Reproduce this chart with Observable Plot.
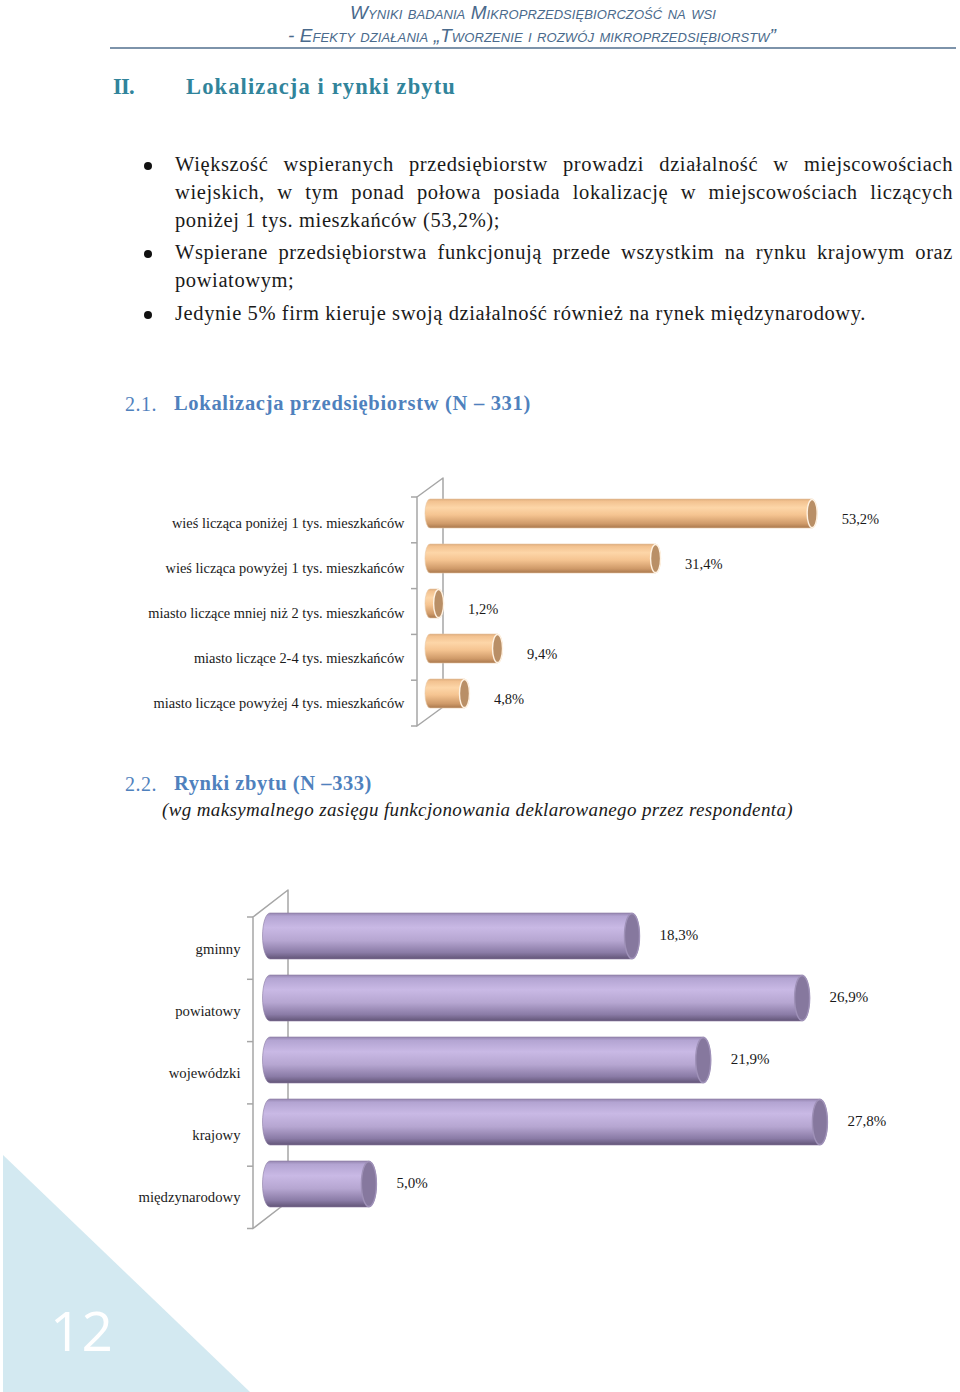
<!DOCTYPE html>
<html><head><meta charset="utf-8">
<script src="https://cdn.jsdelivr.net/npm/d3@7"></script>
<script src="https://cdn.jsdelivr.net/npm/@observablehq/plot@0.6"></script>
<style>
html,body{margin:0;padding:0;background:#fff;}
#page{position:relative;width:960px;height:1392px;overflow:hidden;font-family:"Liberation Serif",serif;color:#1a1a1a;}
.t{position:absolute;white-space:nowrap;}
.bullet{position:absolute;width:8px;height:8px;border-radius:50%;background:#111;}
</style></head><body><div id="page"></div>
<script>
// ---- data ----
const locCategories = ["wieś licząca poniżej 1 tys. mieszkańców", "wieś licząca powyżej 1 tys. mieszkańców", "miasto liczące mniej niż 2 tys. mieszkańców", "miasto liczące 2-4 tys. mieszkańców", "miasto liczące powyżej 4 tys. mieszkańców"];
const locValues = [53.2, 31.4, 1.2, 9.4, 4.8];
const locLabels = ["53,2%", "31,4%", "1,2%", "9,4%", "4,8%"];
const marketCategories = ["gminny", "powiatowy", "wojewódzki", "krajowy", "międzynarodowy"];
const marketValues = [18.3, 26.9, 21.9, 27.8, 5.0];
const marketLabels = ["18,3%", "26,9%", "21,9%", "27,8%", "5,0%"];

const page = document.getElementById("page");
const SERIF = '"Liberation Serif", serif';

function put(txt, o) {
  const el = document.createElement("div");
  el.className = "t";
  el.textContent = txt;
  const lh = o.size * 1.25;
  Object.assign(el.style, {
    left: o.x + "px", top: (o.cy - lh / 2 - o.size * 0.05) + "px",
    fontSize: o.size + "px", lineHeight: lh + "px",
    fontWeight: o.weight || "normal", fontStyle: o.italic ? "italic" : "normal",
    color: o.color || "#1a1a1a", fontFamily: o.family || SERIF,
    fontVariant: o.variant || "normal"
  });
  if (o.ls != null) el.style.letterSpacing = o.ls + "px";
  page.appendChild(el);
  if (o.w) {
    const nat = el.getBoundingClientRect().width;
    const n = [...txt].length;
    el.style.letterSpacing = ((o.w - nat) / n) + "px";
  }
  if (o.jw) {
    el.style.whiteSpace = "normal";
    el.style.width = o.jw + "px";
    el.style.textAlign = "justify";
    el.style.textAlignLast = "justify";
  }
  return el;
}
function measureLS(txt, size, w, extra) {
  const el = put(txt, Object.assign({x: 0, cy: -100, size}, extra || {}));
  const nat = el.getBoundingClientRect().width;
  el.remove();
  return (w - nat) / [...txt].length;
}

// ---- header ----
const HDR = {family: '"Liberation Sans", sans-serif', italic: true, variant: "small-caps", color: "#4a6a8c", size: 19};
put("Wyniki badania Mikroprzedsiębiorczość na wsi", Object.assign({x: 350, cy: 14, w: 366}, HDR));
put("- Efekty działania „Tworzenie i rozwój mikroprzedsiębiorstw”", Object.assign({x: 288, cy: 37, w: 488}, HDR));
const rule = document.createElement("div");
Object.assign(rule.style, {position: "absolute", left: "110px", top: "47px", width: "846px", height: "1.5px", background: "#7d93aa"});
page.appendChild(rule);

// ---- section heading ----
put("II.", {x: 113, cy: 88, size: 22.5, weight: "bold", color: "#31849b", w: 21});
put("Lokalizacja i rynki zbytu", {x: 186, cy: 88, size: 22.5, weight: "bold", color: "#31849b", w: 270});

// ---- bullets ----
const BS = 20.5;
const bodyLS = measureLS("Jedynie 5% firm kieruje swoją działalność również na rynek międzynarodowy.", BS, 691);
const lines = [
  ["Większość wspieranych przedsiębiorstw prowadzi działalność w miejscowościach", 166, true],
  ["wiejskich, w tym ponad połowa posiada lokalizację w miejscowościach liczących", 194, true],
  ["poniżej 1 tys. mieszkańców (53,2%);", 222, false],
  ["Wspierane przedsiębiorstwa funkcjonują przede wszystkim na rynku krajowym oraz", 254, true],
  ["powiatowym;", 282, false],
  ["Jedynie 5% firm kieruje swoją działalność również na rynek międzynarodowy.", 315, false]
];
for (const [t, cy, j] of lines) put(t, {x: 175, cy, size: BS, ls: bodyLS, jw: j ? 778 : null});
for (const cy of [166, 254, 315]) {
  const b = document.createElement("div"); b.className = "bullet";
  b.style.left = "144px"; b.style.top = (cy - 4) + "px"; page.appendChild(b);
}

// ---- subheadings ----
put("2.1.", {x: 125, cy: 405, size: 20, color: "#4f81bd", w: 32});
put("Lokalizacja przedsiębiorstw (N – 331)", {x: 174, cy: 405, size: 20.5, weight: "bold", color: "#4f81bd", w: 357});
put("2.2.", {x: 125, cy: 785, size: 20, color: "#4f81bd", w: 32});
put("Rynki zbytu (N –333)", {x: 174, cy: 785, size: 20.5, weight: "bold", color: "#4f81bd", w: 198});
put("(wg maksymalnego zasięgu funkcjonowania deklarowanego przez respondenta)", {x: 162, cy: 811, size: 19, italic: true, w: 631});

// ---- cylinder bar chart ----
function cylChart(c) {
  const rows = c.cats.map((cat, i) => ({cat, value: c.vals[i], label: c.labels[i]}));
  const n = rows.length;
  const innerH = c.height - c.marginTop - c.marginBottom;
  const step = innerH / n;
  const bw = step * (1 - c.padInner);
  const rx = c.rx, ry = bw / 2;

  const defsMark = () => {
    const g = d3.create("svg:g");
    const grad = g.append("defs").append("linearGradient").attr("id", c.gradId)
      .attr("x1", 0).attr("y1", 0).attr("x2", 0).attr("y2", 1);
    c.stops.forEach(([o, col]) => grad.append("stop").attr("offset", o).attr("stop-color", col));
    return g.node();
  };
  const wallMark = (index, scales, values, dim) => {
    const g = d3.create("svg:g").attr("stroke", "#a6a6a6").attr("stroke-width", 1.5).attr("fill", "none");
    const x0 = scales.x(0);
    const top = dim.marginTop + c.wall.oy, bottom = dim.height - dim.marginBottom + c.wall.oy;
    const xl = x0 + c.wall.lx, xb = x0 + c.wall.bx, dy = c.wall.dy;
    g.append("path").attr("d", `M${xl},${top}L${xb},${top - dy}L${xb},${bottom - dy}L${xl},${bottom}Z`).attr("stroke-linejoin", "round");
    for (let i = 0; i <= n; i++) {
      const y = top + i * (bottom - top) / n;
      g.append("line").attr("x1", xl - 6).attr("x2", xl).attr("y1", y).attr("y2", y);
    }
    return g.node();
  };
  const capMark = (index, scales) => {
    const g = d3.create("svg:g");
    const b = scales.y.bandwidth ? scales.y.bandwidth() : bw;
    g.selectAll("ellipse").data(rows).join("ellipse")
      .attr("cx", d => scales.x(d.value)).attr("cy", d => scales.y(d.cat) + b / 2)
      .attr("rx", rx).attr("ry", b / 2 - 0.5)
      .attr("fill", c.capFill).attr("stroke", c.capStroke).attr("stroke-width", 1.4);
    return g.node();
  };

  const svg = Plot.plot({
    width: c.width, height: c.height,
    marginLeft: c.marginLeft, marginRight: c.marginRight, marginTop: c.marginTop, marginBottom: c.marginBottom,
    style: {background: "transparent", fontFamily: SERIF, color: "#1a1a1a", overflow: "visible"},
    x: {domain: [0, c.xMax], axis: null},
    y: {domain: c.cats, paddingInner: c.padInner, paddingOuter: c.padInner / 2, axis: null},
    marks: [
      defsMark,
      wallMark,
      Plot.barX(rows, {x: "value", y: "cat", fill: `url(#${c.gradId})`, rx, ry,
        insetLeft: -rx, insetRight: -rx, stroke: c.edge, strokeWidth: 0.6}),
      capMark,
      Plot.text(rows, {x: () => 0, y: "cat", text: "cat", dx: c.catDx, dy: c.catDy, textAnchor: "end", fontSize: c.catSize}),
      Plot.text(rows, {x: "value", y: "cat", text: "label", dx: c.valDx, dy: c.valDy, textAnchor: "start", fontSize: c.valSize})
    ]
  });
  Object.assign(svg.style, {position: "absolute", left: c.left + "px", top: c.top + "px"});
  page.appendChild(svg);
}

cylChart({
  cats: locCategories, vals: locValues, labels: locLabels,
  left: 130, top: 470, width: 800, height: 270,
  marginLeft: 300, marginRight: 69, marginTop: 19, marginBottom: 22, xMax: 60,
  padInner: 0.35, rx: 5, gradId: "gradOrange",
  stops: [[0, "#d9a777"], [0.07, "#f2c18f"], [0.3, "#fdd6a8"], [0.55, "#f5c491"], [0.85, "#cf9a69"], [1, "#a9784d"]],
  edge: "#e8c7a5", capFill: "#b98f66", capStroke: "#fff2e2",
  wall: {lx: -13, bx: 13, dy: 19, oy: 8},
  catDx: -26, catDy: 9, catSize: 14.4, valDx: 29, valDy: 5, valSize: 14.5
});

cylChart({
  cats: marketCategories, vals: marketValues, labels: marketLabels,
  left: 130, top: 870, width: 800, height: 380,
  marginLeft: 140, marginRight: 27, marginTop: 34, marginBottom: 34.5, xMax: 32,
  padInner: 0.262, rx: 7.5, gradId: "gradPurple",
  stops: [[0, "#9585b0"], [0.07, "#b3a4d2"], [0.32, "#c9b9e5"], [0.6, "#b6a6d1"], [0.86, "#8a7ba6"], [1, "#625577"]],
  edge: "#8a7ba2", capFill: "#86789e", capStroke: "#9f91b8",
  wall: {lx: -17, bx: 18, dy: 27, oy: 13},
  catDx: -30, catDy: 13, catSize: 14.7, valDx: 27, valDy: -1, valSize: 15
});

// ---- page corner ----
const ns = "http://www.w3.org/2000/svg";
const corner = document.createElementNS(ns, "svg");
corner.setAttribute("width", 260); corner.setAttribute("height", 240);
Object.assign(corner.style, {position: "absolute", left: "0px", top: "1152px"});
const poly = document.createElementNS(ns, "polygon");
poly.setAttribute("points", "3,3 3,240 250,240");
poly.setAttribute("fill", "#d3e9f1");
corner.appendChild(poly);
page.appendChild(corner);
put("12", {x: 50, cy: 1333, size: 55, color: "#ffffff", family: '"Open Sans", sans-serif'});
</script></body></html>
